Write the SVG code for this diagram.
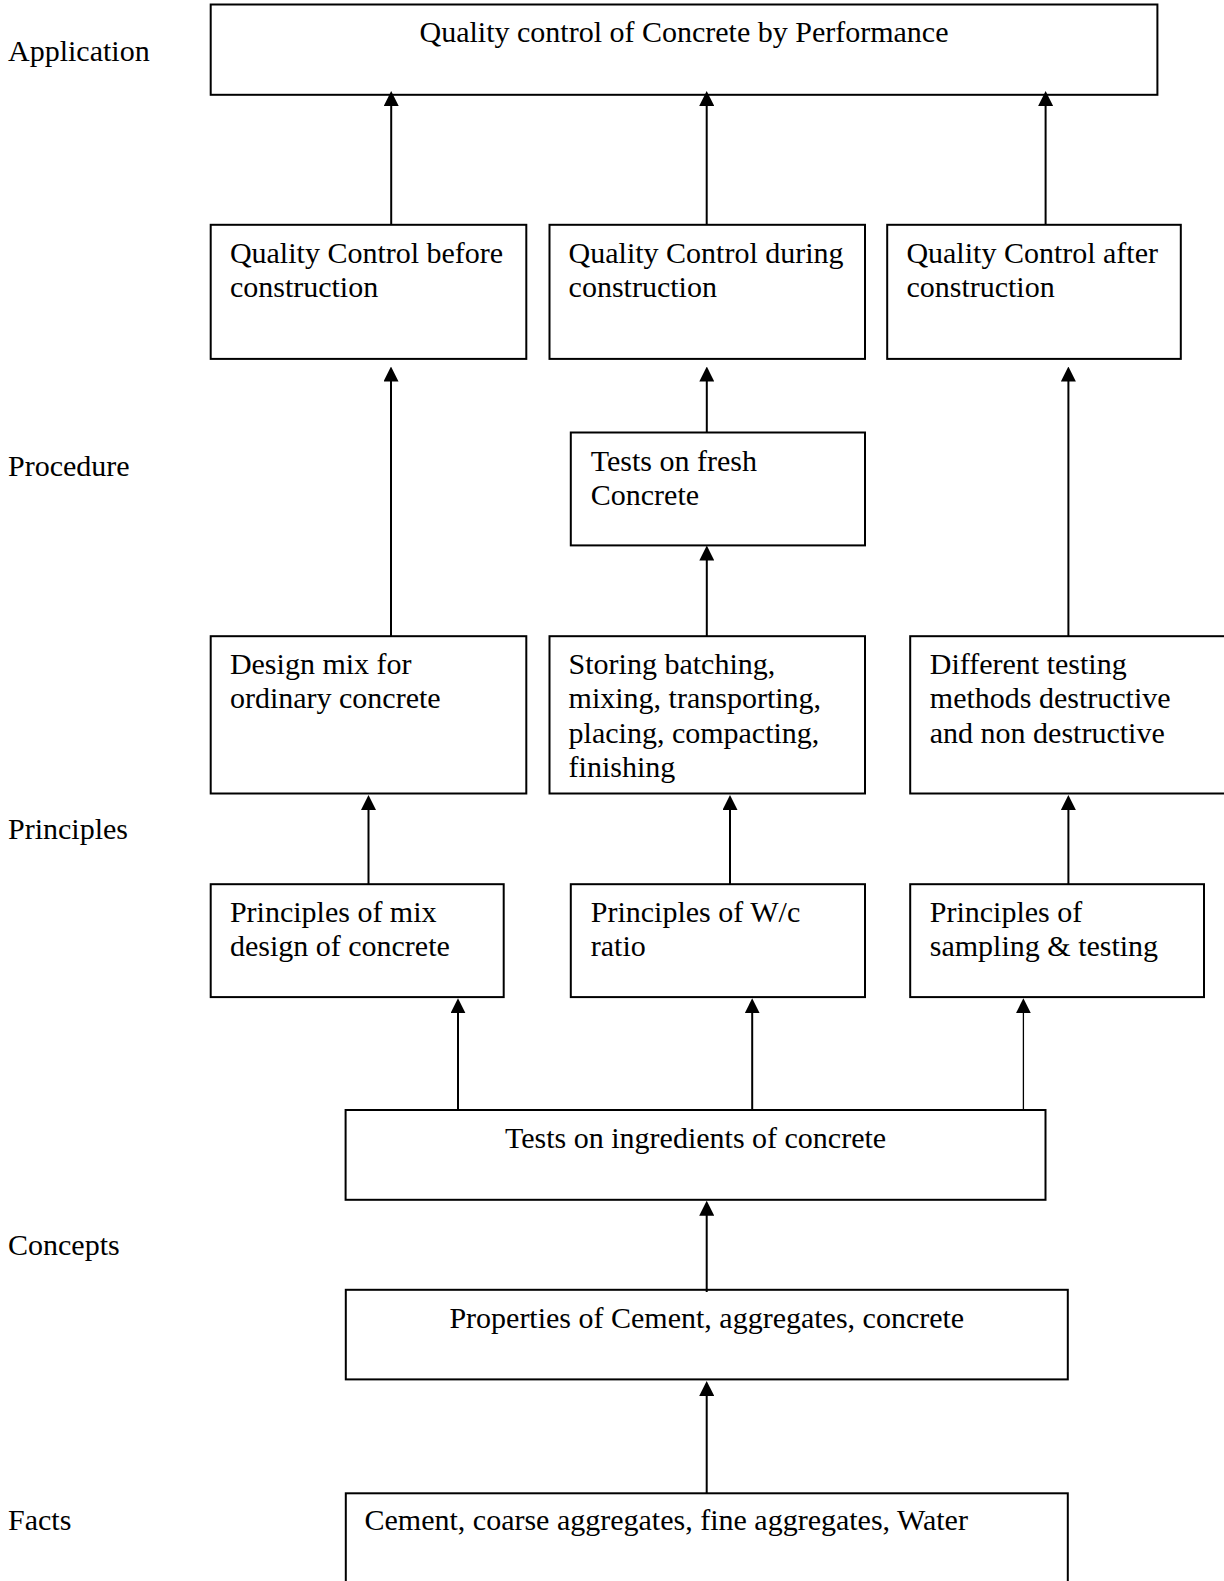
<svg xmlns="http://www.w3.org/2000/svg" width="1224" height="1581" viewBox="0 0 1224 1581">
<style>
  .box { fill: #fff; stroke: #000; stroke-width: 2; }
  .t { font-family: "Liberation Serif", "Times New Roman", serif; font-size: 30px; fill: #000; }
  .c { text-anchor: middle; }
  .edge { stroke: #000; stroke-width: 2; fill: none; marker-end: url(#ah); }
  .thin { stroke-width: 1.3; }
</style>
<defs>
  <marker id="ah" viewBox="0 0 15 15" refX="7.5" refY="7.5" markerWidth="15" markerHeight="15" markerUnits="userSpaceOnUse" orient="auto">
    <path d="M0,0 L15,7.5 L0,15 z" fill="#000"/>
  </marker>
</defs>
<rect width="1224" height="1581" fill="#fff"/>

<g id="labels">
  <text class="t" x="8" y="61">Application</text>
  <text class="t" x="8" y="476">Procedure</text>
  <text class="t" x="8" y="839">Principles</text>
  <text class="t" x="8" y="1255">Concepts</text>
  <text class="t" x="8" y="1530">Facts</text>
</g>

<g id="n-top">
  <rect class="box" x="210.7" y="4.5" width="946.7" height="90.3"/>
  <text class="t c" x="684" y="42">Quality control of Concrete by Performance</text>
</g>
<g id="n-qc-before">
  <rect class="box" x="210.7" y="224.8" width="315.6" height="134.1"/>
  <text class="t" x="229.9" y="263">Quality Control before</text>
  <text class="t" x="229.9" y="297">construction</text>
</g>
<g id="n-qc-during">
  <rect class="box" x="549.5" y="224.8" width="315.5" height="134.1"/>
  <text class="t" x="568.6" y="263">Quality Control during</text>
  <text class="t" x="568.6" y="297">construction</text>
</g>
<g id="n-qc-after">
  <rect class="box" x="887.2" y="224.8" width="293.6" height="134.1"/>
  <text class="t" x="906.4" y="263">Quality Control after</text>
  <text class="t" x="906.4" y="297">construction</text>
</g>
<g id="n-fresh">
  <rect class="box" x="570.8" y="432.5" width="294.2" height="112.9"/>
  <text class="t" x="590.8" y="471">Tests on fresh</text>
  <text class="t" x="590.8" y="505">Concrete</text>
</g>
<g id="n-design">
  <rect class="box" x="210.7" y="636.2" width="315.6" height="157.3"/>
  <text class="t" x="229.9" y="673.5">Design mix for</text>
  <text class="t" x="229.9" y="707.7">ordinary concrete</text>
</g>
<g id="n-storing">
  <rect class="box" x="549.5" y="636.2" width="315.5" height="157.3"/>
  <text class="t" x="568.6" y="673.5">Storing batching,</text>
  <text class="t" x="568.6" y="707.7">mixing, transporting,</text>
  <text class="t" x="568.6" y="742.5">placing, compacting,</text>
  <text class="t" x="568.6" y="777">finishing</text>
</g>
<g id="n-testing">
  <rect class="box" x="910.2" y="636.2" width="320" height="157.3"/>
  <text class="t" x="929.8" y="673.5">Different testing</text>
  <text class="t" x="929.8" y="707.7">methods destructive</text>
  <text class="t" x="929.8" y="742.5">and non destructive</text>
</g>
<g id="n-p-mix">
  <rect class="box" x="210.7" y="884.2" width="293" height="112.9"/>
  <text class="t" x="229.9" y="921.5">Principles of mix</text>
  <text class="t" x="229.9" y="955.5">design of concrete</text>
</g>
<g id="n-p-wc">
  <rect class="box" x="570.8" y="884.2" width="294.2" height="112.9"/>
  <text class="t" x="590.8" y="921.5">Principles of W/c</text>
  <text class="t" x="590.8" y="955.5">ratio</text>
</g>
<g id="n-p-sampling">
  <rect class="box" x="910.2" y="884.2" width="293.8" height="112.9"/>
  <text class="t" x="929.8" y="921.5">Principles of</text>
  <text class="t" x="929.8" y="955.5">sampling &amp; testing</text>
</g>
<g id="n-ingredients">
  <rect class="box" x="345.6" y="1110" width="699.9" height="89.8"/>
  <text class="t c" x="695.6" y="1148">Tests on ingredients of concrete</text>
</g>
<g id="n-properties">
  <rect class="box" x="345.8" y="1289.8" width="722" height="89.6"/>
  <text class="t c" x="706.8" y="1327.5">Properties of Cement, aggregates, concrete</text>
</g>
<g id="n-facts">
  <rect class="box" x="345.8" y="1493.3" width="722" height="100"/>
  <text class="t" x="364.5" y="1530">Cement, coarse aggregates, fine aggregates, Water</text>
</g>

<g id="connectors">
  <line class="edge" x1="391.2" y1="224.8" x2="391.2" y2="98.5"/>
  <line class="edge" x1="706.7" y1="224.8" x2="706.7" y2="98.5"/>
  <line class="edge" x1="1045.6" y1="224.8" x2="1045.6" y2="98.5"/>
  <line class="edge" x1="391" y1="636" x2="391" y2="374"/>
  <line class="edge" x1="706.8" y1="432.5" x2="706.8" y2="374"/>
  <line class="edge" x1="706.8" y1="636" x2="706.8" y2="553"/>
  <line class="edge" x1="1068.4" y1="636" x2="1068.4" y2="374"/>
  <line class="edge" x1="368.5" y1="884" x2="368.5" y2="802.5"/>
  <line class="edge" x1="730" y1="884" x2="730" y2="802.5"/>
  <line class="edge" x1="1068.4" y1="884" x2="1068.4" y2="802.5"/>
  <line class="edge" x1="458" y1="1110" x2="458" y2="1005.8"/>
  <line class="edge" x1="752.2" y1="1110" x2="752.2" y2="1005.8"/>
  <line class="edge thin" x1="1023.4" y1="1110" x2="1023.4" y2="1005.8"/>
  <line class="edge" x1="706.7" y1="1292" x2="706.7" y2="1208.2"/>
  <line class="edge" x1="706.7" y1="1493" x2="706.7" y2="1388.5"/>
</g>
</svg>
